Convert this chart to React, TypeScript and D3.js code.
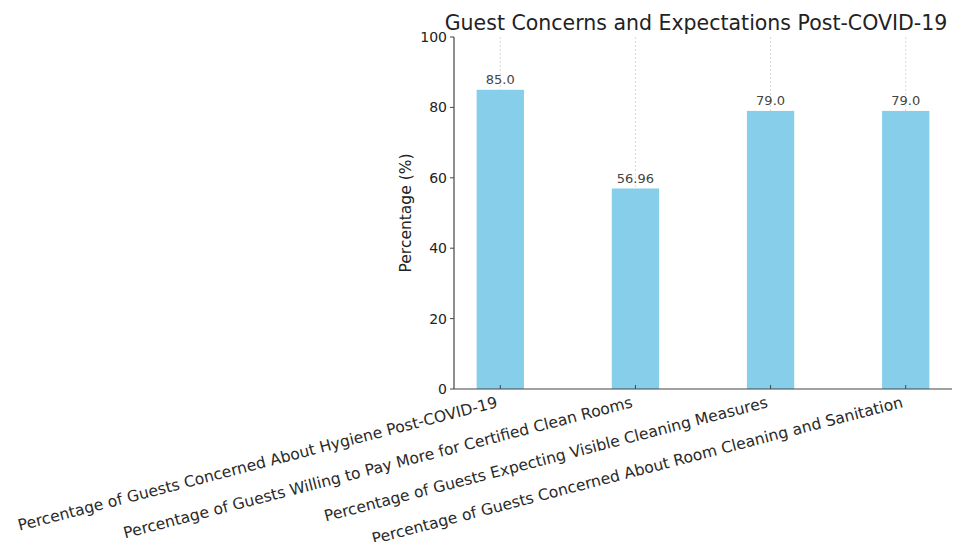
import React, { useEffect, useRef } from 'react';
import * as d3 from 'd3';

const categories = [
  'Percentage of Guests Concerned About Hygiene Post-COVID-19',
  'Percentage of Guests Willing to Pay More for Certified Clean Rooms',
  'Percentage of Guests Expecting Visible Cleaning Measures',
  'Percentage of Guests Concerned About Room Cleaning and Sanitation',
];
const values = [85.0, 56.96, 79.0, 79.0];
const valueLabels = ['85.0', '56.96', '79.0', '79.0'];
const yTicks = [0, 20, 40, 60, 80, 100];

const W = 961;
const H = 550;

export default function App() {
  const svgRef = useRef<SVGSVGElement>(null);

  useEffect(() => {
    if (!svgRef.current) return;
    const svg = d3.select(svgRef.current);
    svg.selectAll('*').remove();

    const left = 454;
    const right = 952;
    const top = 37;
    const bottom = 389;
    const barW = 0.35;

    // matplotlib-style x limits with 5% margins
    const x = d3.scaleLinear().domain([-0.3425, 3.3425]).range([left, right]);
    const y = d3.scaleLinear().domain([0, 100]).range([bottom, top]);

    const font = "'DejaVu Sans', sans-serif";
    const g = svg.append('g').style('font-family', font);

    // dotted vertical grid lines
    g.selectAll('line.grid')
      .data(categories)
      .enter()
      .append('line')
      .attr('x1', (_d, i) => x(i))
      .attr('x2', (_d, i) => x(i))
      .attr('y1', top)
      .attr('y2', bottom)
      .attr('stroke', '#d0d0d0')
      .attr('stroke-width', 0.8)
      .attr('stroke-dasharray', '2,2');

    // bars
    g.selectAll('rect.bar')
      .data(values)
      .enter()
      .append('rect')
      .attr('x', (_d, i) => x(i - barW / 2))
      .attr('width', x(barW) - x(0))
      .attr('y', (d) => y(d))
      .attr('height', (d) => bottom - y(d))
      .attr('fill', '#87CEEB');

    // value labels
    g.selectAll('text.val')
      .data(valueLabels)
      .enter()
      .append('text')
      .attr('x', (_d, i) => x(i))
      .attr('y', (_d, i) => y(values[i]) - 6)
      .attr('text-anchor', 'middle')
      .attr('font-size', 13)
      .attr('fill', '#444')
      .text((d) => d);

    // y axis
    g.append('line')
      .attr('x1', left).attr('x2', left)
      .attr('y1', top).attr('y2', bottom)
      .attr('stroke', '#444').attr('stroke-width', 1.2);
    yTicks.forEach((t) => {
      g.append('line')
        .attr('x1', left - 4).attr('x2', left)
        .attr('y1', y(t)).attr('y2', y(t))
        .attr('stroke', '#444');
      g.append('text')
        .attr('x', left - 7)
        .attr('y', y(t))
        .attr('dy', '0.35em')
        .attr('text-anchor', 'end')
        .attr('font-size', 14)
        .attr('fill', '#222')
        .text(String(t));
    });

    // x axis
    g.append('line')
      .attr('x1', left).attr('x2', right)
      .attr('y1', bottom).attr('y2', bottom)
      .attr('stroke', '#444').attr('stroke-width', 1.2);
    categories.forEach((c, i) => {
      g.append('line')
        .attr('x1', x(i)).attr('x2', x(i))
        .attr('y1', bottom).attr('y2', bottom - 4)
        .attr('stroke', '#444');
      g.append('text')
        .attr('transform', `translate(${x(i) - 2},${bottom + 18}) rotate(-14.5)`)
        .attr('text-anchor', 'end')
        .attr('font-size', 15.6)
        .attr('fill', '#2a2a2a')
        .text(c);
    });

    // y label
    g.append('text')
      .attr('transform', `translate(${411},${(top + bottom) / 2}) rotate(-90)`)
      .attr('text-anchor', 'middle')
      .attr('font-size', 15.5)
      .attr('fill', '#222')
      .text('Percentage (%)');

    // title
    g.append('text')
      .attr('x', 696)
      .attr('y', 30)
      .attr('text-anchor', 'middle')
      .attr('font-size', 20.5)
      .attr('fill', '#222')
      .text('Guest Concerns and Expectations Post-COVID-19');
  }, []);

  return <svg ref={svgRef} width={W} height={H} style={{ display: 'block', margin: '-8px' }} />;
}
